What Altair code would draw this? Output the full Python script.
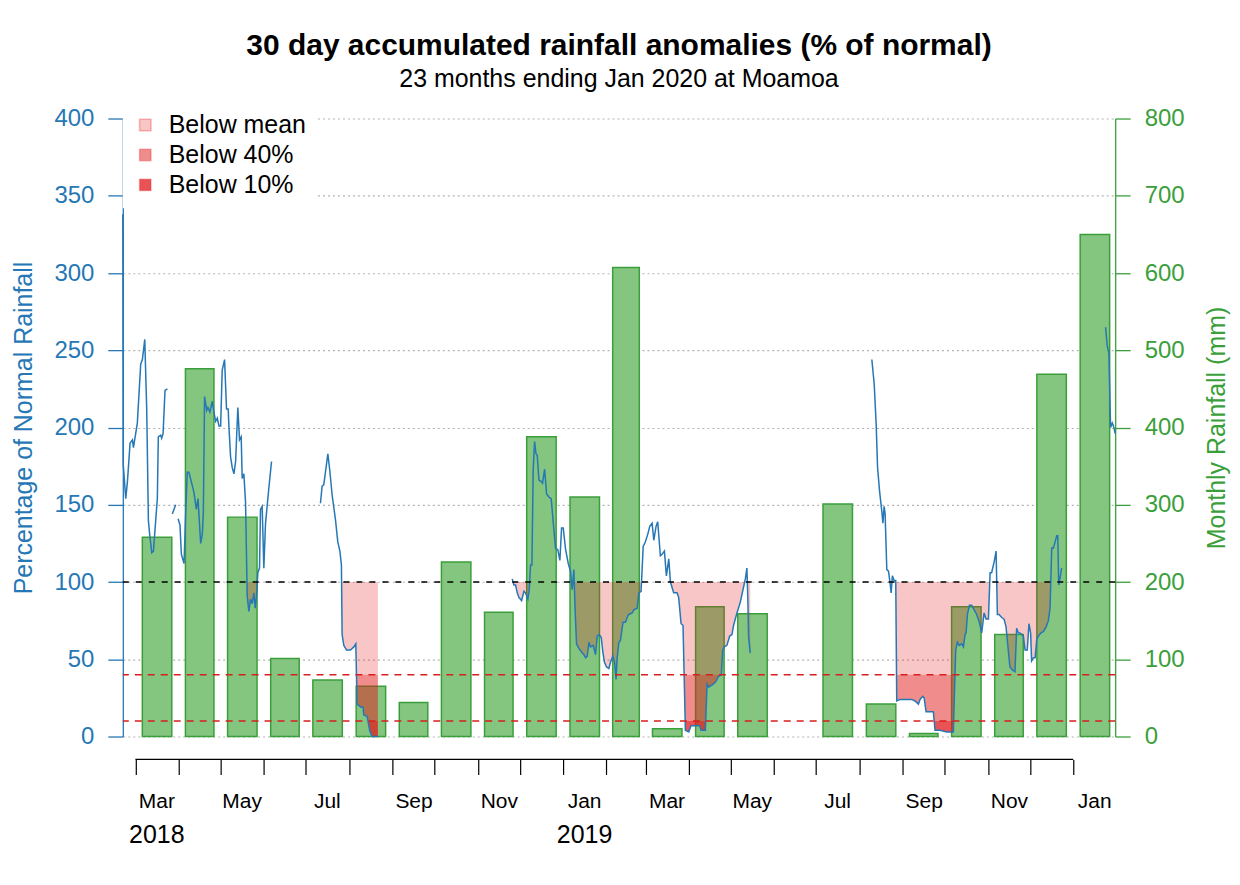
import altair as alt
import pandas as pd

FONT = "Liberation Sans"
BLUE = "#2677b5"
GREEN = "#3a9f3a"
GREEN_FILL = "#84c680"

# ---------------- data ----------------
START = pd.Timestamp("2018-03-01")

months = ["2018-03", "2018-04", "2018-05", "2018-06", "2018-07", "2018-08",
          "2018-09", "2018-10", "2018-11", "2018-12", "2019-01", "2019-02",
          "2019-03", "2019-04", "2019-05", "2019-06", "2019-07", "2019-08",
          "2019-09", "2019-10", "2019-11", "2019-12", "2020-01"]
rain_mm = [258, 476, 284, 101, 73, 65, 44, 226, 161, 388, 310, 607,
           10, 168, 159, None, 301, 42, 4, 168, 132, 469, 650]

# days since 2018-03-01 and 30-day rainfall as % of normal (None = gap)
day = [-9, -8.7, -6.9, -5.7, -3.8, -2.1, -1.4, 0.2, 1.4, 3.8, 5.0, 6.7, 8.1, 9.3,
       10.2, 11.7, 12.9, 15.7, 16.4, 18.1, 18.8, 19.8, 21.2, 22.9, None,
       26.4, 28.8, None,
       30.5, 31.9, 32.9, 34.8, 36.0, 37.1, 38.3, 40.0, 41.9, 43.6, 44.8, 46.7,
       47.9, 48.6, 49.5, 51.0, 51.9, 53.3, 55.0, 56.2, 57.4, 58.6, 59.8, 61.0,
       62.1, 63.8, 65.2, 66.4, 66.9, 68.1, 69.3, 70.5, 71.7, 73.3, 74.5, 75.7,
       76.4, 77.6, 78.8, 80.0, 81.2, 82.4, 83.6, 84.8, 85.7, 86.7, 87.6, 88.8,
       89.5, 90.7, 91.9, 93.1, 95.5, 97.4, None,
       132.4, 133.6, 134.8, 137.7, 139.1, 140.8, 143.2, 144.8, 146.3, 147.4,
       147.9, 149.1, 151.0, 153.9, 156.3, 157.7, 158.6, 161.5, 162.9, 163.4,
       165.8, 167.7, 169.4, 173.5, None,
       269.6, 270.8, 272.0, 273.2, 274.4, 276.3, 278.0, 279.1, 280.8, 281.8,
       282.7, 283.7, 284.6, 285.6, 286.6, 287.5, 288.7, 290.4, 291.3, 292.8,
       294.2, 295.8, 297.5, 298.9, 300.6, 302.2, 303.7, 304.9, 306.1, 307.8,
       309.7, 311.3, 312.5, 313.7, 314.6, 315.6, 317.3, 318.9, 320.9, 322.1,
       323.3, 324.5, 325.6, 327.5, 329.2, 330.4, 331.8, 333.3, 334.4, 335.6,
       337.1, 338.7, 339.9, 341.6, 342.8, 343.9, 344.7, 345.9, 347.0, 348.9,
       350.6, 352.3, 353.0, 355.4, 356.6, 359.0, 360.2, 361.8, 363.3, 364.9,
       366.6, 368.0, 369.7, 370.9, 372.5, 373.7, 375.6, 376.8, 378.5, 379.9,
       381.6, 382.8, 385.1, 387.5, 388.7, 390.4, 391.8, 393.5, 395.9, 397.5,
       400.6, 403.7, 404.7, 407.8, 409.0, 410.2, 411.8, 413.7, 415.6, 417.3,
       419.2, 420.2, 421.4, 423.2, 425.2, 426.8, 428.0, 430.4, 432.8, 434.7,
       436.4, 437.5, 438.2, 438.7, 439.9, None,
       526.9, 528.6, 530.0, 531.0, 532.4, 534.0, 534.8, 535.7, 536.4, 537.6,
       538.8, 540.0, 540.7, 541.6, 542.8, 544.0, 544.7, 547.2, 549.5, 553.1,
       555.4, 557.8, 560.2, 561.4, 563.3, 564.3, 565.7, 567.4, 569.7, 570.9,
       572.1, 575.7, 580.4, 585.2, 586.9, 588.1, 589.5, 591.2, 592.4, 593.6,
       594.3, 595.3, 596.7, 598.3, 600.1, 601.9, 603.8, 605.5, 607.2, 608.6,
       610.3, 611.5, 612.6, 614.4, 615.8, 616.7, 617.9, 619.8, 621.5, 622.9,
       624.6, 625.7, 627.6, 629.3, 630.5, 631.7, 632.9, 634.1, 635.3, 636.5,
       638.1, 639.3, 640.5, 641.2, 642.5, 643.7, 644.9, 646.1, 647.7, 649.7,
       651.6, 653.2, 654.4, 655.6, 656.8, 658.0, 659.2, 659.9, 660.6, 661.6,
       662.7, None,
       694.1, 695.3, 696.5, 697.7, 698.9, 700.1, 701.0]
pct = [338, 176, 154, 165, 190, 192, 187, 196, 203, 241, 244, 257, 212, 140,
       131, 119, 120, 154, 194, 195, 193, 196, 224, 225, None,
       144, 150, None,
       141, 137, 118, 112, 145, 171, 171, 165, 158, 147, 154, 125,
       131, 145, 220, 211, 213, 210, 217, 210, 204, 206, 201, 201,
       237, 244, 212, 212, 201, 181, 174, 170, 178, 213, 192, 194,
       167, 170, 152, 91, 81, 89, 86, 93, 83, 91, 106, 109,
       147, 149, 109, 138, 161, 178, None,
       151, 162, 163, 183, 172, 156, 140, 126, 120, 111,
       66, 59, 56, 56, 58, 60, 21, 19, 19, 14,
       13, 3.5, 0, 0, None,
       102, 98, 98, 93, 90, 88, 94, 93, 89, 95,
       111, 111, 172, 191, 183, 182, 166, 165, 164, 173,
       157, 155, 154, 139, 122, 121, 114, 135, 135, 121,
       112, 107, 95, 108, 82, 60, 57, 55, 53, 51,
       52, 61, 58, 59, 53, 65, 66, 64, 55, 48,
       45, 44, 48, 52, 48, 37, 51, 61, 62, 74,
       74, 78, 79, 80, 82, 83, 93, 94, 123, 126,
       131, 136, 138, 127, 136, 139, 117, 118, 120, 104,
       115, 100, 93, 93, 90, 73, 72, 4, 3, 7,
       7, 7, 4, 4, 34, 32, 33, 34, 36, 39,
       40, 56, 58, 59, 65, 66, 72, 80, 87, 95,
       102, 109, 88, 65, 54, None,
       244, 228, 202, 174, 159, 146, 138, 149, 144, 108,
       107, 99, 93, 104, 101, 101, 23, 24, 24, 24,
       24, 23, 21, 24, 26, 25, 16, 16, 16, 16,
       4, 4, 3, 3, 56, 61, 59, 60, 58, 66,
       67, 79, 85, 85, 82, 79, 74, 67, 80, 76,
       76, 106, 106, 113, 120, 79, 79, 77, 76, 71,
       55, 45, 43, 42, 70, 67, 67, 66, 65, 56,
       56, 73, 67, 49, 51, 51, 63, 65, 67, 68,
       71, 75, 83, 122, 122, 126, 130, 130, 98, 103,
       109, None,
       265, 253, 248, 200, 203, 200, 196]

levels = ["Below mean", "Below 40%", "Below 10%"]
level_colors = ["rgba(227,26,28,0.25)", "rgba(227,26,28,0.5)", "rgba(227,26,28,0.75)"]
ref_mean = [100]
ref_low = [40, 10]

# ---------------- tables built from the lists ----------------
ms = pd.to_datetime(months)
me = ms + pd.offsets.MonthBegin(1)
bars = pd.DataFrame({"start": ms + (me - ms) * 0.16, "end": me - (me - ms) * 0.16,
                     "mm": rain_mm}).dropna()
bars["base"] = 0

rows, seg = [], 0
for d, v in zip(day, pct):
    if d is None:
        seg += 1
        continue
    rows.append({"seg": seg, "d": d, "pct": v})
line = pd.DataFrame(rows)
line["date"] = START + pd.to_timedelta(line["d"], unit="D")

# shading bands (with threshold crossings inserted)
band_rows = []
for s, g in line.groupby("seg"):
    pts = list(zip(g["d"], g["pct"]))
    dense = []
    for i, (d1, v1) in enumerate(pts):
        dense.append((d1, v1))
        if i + 1 < len(pts):
            d2, v2 = pts[i + 1]
            cross = []
            for t in (100, 40, 10):
                if (v1 - t) * (v2 - t) < 0:
                    cross.append((d1 + (t - v1) / (v2 - v1) * (d2 - d1), t))
            dense.extend(sorted(cross))
    for d, v in dense:
        band_rows.append({"seg": s, "d": d, "level": levels[0],
                          "lo": max(min(v, 100), 40), "hi": 100})
        band_rows.append({"seg": s, "d": d, "level": levels[1],
                          "lo": max(min(v, 40), 10), "hi": 40})
        band_rows.append({"seg": s, "d": d, "level": levels[2],
                          "lo": min(v, 10), "hi": 10})
bands = pd.DataFrame(band_rows)
bands["date"] = START + pd.to_timedelta(bands["d"], unit="D")

axis_span = pd.DataFrame({"a": [ms[0]], "b": [ms[-1]]})

# ---------------- scales & axes ----------------
W, H = 994, 619
xscale = alt.Scale(domain=[alt.DateTime(year=2018, month=2, date=20),
                           alt.DateTime(year=2020, month=1, date=31)], nice=False)
pscale = alt.Scale(domain=[0, 400], nice=False)
mscale = alt.Scale(domain=[0, 800], nice=False, padding=0)

month_ticks = [alt.DateTime(year=int(m[:4]), month=int(m[5:]), date=1) for m in months]

month_axis = alt.Axis(
    values=month_ticks, orient="bottom", offset=23, domain=False, ticks=True,
    tickSize=15, tickColor="black", tickWidth=1.2, grid=False, title=None,
    labelExpr="month(datum.value) % 2 == 0 ? timeFormat(datum.value, '%b') : ''",
    labelOffset=21, labelPadding=16, labelFontSize=21, labelFont=FONT,
    labelColor="black", labelOverlap=False, labelBound=False, labelFlush=False,
    labelAlign="center", labelBaseline="top")

year_axis = alt.Axis(
    values=[alt.DateTime(year=2018, month=3, date=1), alt.DateTime(year=2019, month=1, date=1)],
    orient="bottom", offset=23, domain=False, ticks=False, tickSize=0, grid=False,
    title=None, labelExpr="timeFormat(datum.value, '%Y')", labelOffset=21,
    labelPadding=63, labelFontSize=25, labelFont=FONT, labelColor="black",
    labelOverlap=False, labelBound=False, labelFlush=False, labelAlign="center",
    labelBaseline="top")

pct_axis = alt.Axis(
    orient="left", values=list(range(0, 401, 50)), domainColor=BLUE, domainWidth=1.3,
    tickColor=BLUE, tickSize=15, tickWidth=1.3, labelColor=BLUE, labelFontSize=24,
    labelFont=FONT, labelPadding=14, labelOverlap=False,
    title="Percentage of Normal Rainfall", titleColor=BLUE, titleFontSize=25,
    titleFont=FONT, titleFontWeight="normal", titlePadding=17,
    grid=True, gridColor="#b3b3b3", gridDash=[2, 3], gridWidth=1.2)

mm_axis = alt.Axis(
    orient="right", values=list(range(0, 801, 100)), domainColor=GREEN, domainWidth=1.3,
    tickColor=GREEN, tickSize=15, tickWidth=1.3, labelColor=GREEN, labelFontSize=24,
    labelFont=FONT, labelPadding=14, labelOverlap=False,
    title="Monthly Rainfall (mm)", titleColor=GREEN, titleFontSize=25, titleFont=FONT,
    titleFontWeight="normal", titlePadding=20, titleAngle=270, titleBaseline="top",
    grid=False)

# ---------------- layers ----------------
bar_layer = alt.Chart(bars).mark_bar(fill=GREEN_FILL, stroke=GREEN, strokeWidth=1.5).encode(
    x=alt.X("start:T", scale=xscale, axis=month_axis),
    x2="end:T",
    y=alt.Y("mm:Q", scale=mscale, axis=mm_axis),
    y2="base:Q",
)

band_layer = alt.Chart(bands).mark_area(opacity=1, interpolate="linear").encode(
    x=alt.X("date:T", scale=xscale, axis=None),
    y=alt.Y("lo:Q", scale=pscale, axis=None),
    y2="hi:Q",
    color=alt.Color("level:N", scale=alt.Scale(domain=levels, range=level_colors),
                    legend=alt.Legend(
                        orient="none", legendX=0, legendY=-16, title=None,
                        direction="vertical", fillColor="white", padding=10,
                        symbolType="square", symbolSize=130, symbolOffset=0,
                        symbolStrokeWidth=1.5, symbolStrokeColor="rgba(227,26,28,0.3)",
                        symbolOpacity=1,
                        labelFontSize=25, labelFont=FONT, labelColor="black",
                        labelOffset=11, rowPadding=4)),
    detail="seg:N",
)

line_layer = alt.Chart(line).mark_line(color=BLUE, strokeWidth=1.5).encode(
    x=alt.X("date:T", scale=xscale, axis=None),
    y=alt.Y("pct:Q", scale=pscale, axis=pct_axis),
    detail="seg:N",
)

mean_rule = alt.Chart(pd.DataFrame({"v": ref_mean})).mark_rule(
    color="black", strokeDash=[6, 7], strokeWidth=1.3).encode(
    y=alt.Y("v:Q", scale=pscale, axis=None))

low_rule = alt.Chart(pd.DataFrame({"v": ref_low})).mark_rule(
    color="#d81e1e", strokeDash=[7, 6], strokeWidth=1.4).encode(
    y=alt.Y("v:Q", scale=pscale, axis=None))

xaxis_line = alt.Chart(axis_span).mark_rule(color="black", strokeWidth=1.2).encode(
    x=alt.X("a:T", scale=xscale, axis=year_axis),
    x2="b:T",
    y=alt.value(H + 23),
)

chart = alt.layer(
    bar_layer, band_layer, line_layer, mean_rule, low_rule, xaxis_line
).resolve_scale(y="independent").resolve_axis(x="independent", y="independent").properties(
    width=W, height=H,
    autosize=alt.AutoSizeParams(type="none"),
    padding={"left": 115, "top": 110, "right": 117, "bottom": 130},
    title=alt.TitleParams(
        text="30 day accumulated rainfall anomalies (% of normal)",
        subtitle="23 months ending Jan 2020 at Moamoa",
        font=FONT, fontSize=30, fontWeight="bold", color="black",
        subtitleFont=FONT, subtitleFontSize=25, subtitleColor="black",
        anchor="middle", offset=11, subtitlePadding=6),
).configure_view(stroke=None)

chart.save("out.html", embed_options={"renderer": "svg", "actions": False})
